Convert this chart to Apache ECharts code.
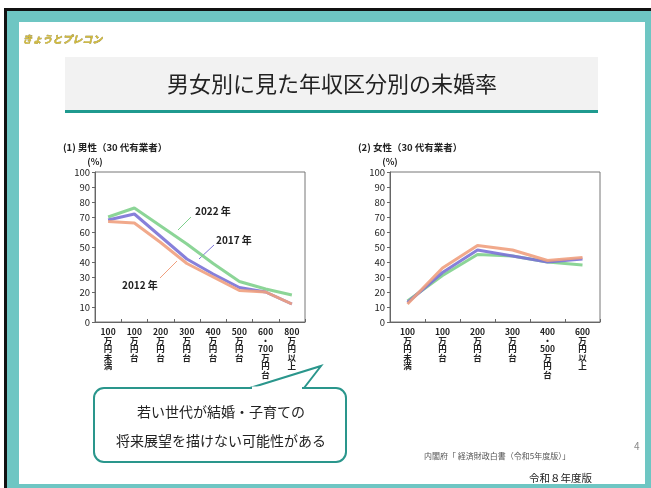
<!DOCTYPE html>
<html>
<head>
<meta charset="utf-8">
<script src="https://cdn.jsdelivr.net/npm/echarts@6/dist/echarts.min.js"></script>
<style>
  html, body { margin: 0; padding: 0; background: #fff; }
  #main { width: 651px; height: 488px; }
</style>
</head>
<body>
<div id="main"></div>
<script>
// 男性（30代有業者）
const maleCategories = ["100万円未満", "100万円台", "200万円台", "300万円台", "400万円台", "500万円台", "600・700万円台", "800万円以上"];
const male2012 = [67, 66, 53, 39, 30, 21, 20, 12];
const male2017 = [68, 72, 57, 42, 32, 23, 20, 12];
const male2022 = [70, 76, 64, 52, 39, 27, 22, 18];

// 女性（30代有業者）
const femaleCategories = ["100万円未満", "100万円台", "200万円台", "300万円台", "400・500万円台", "600万円以上"];
const female2012 = [12, 36, 51, 48, 41, 43];
const female2017 = [13, 33, 48, 44, 40, 42];
const female2022 = [14, 31, 45, 44, 40, 38];

const yTicks = [0, 10, 20, 30, 40, 50, 60, 70, 80, 90, 100];

const colors = { y2012: "#f0a07e", y2017: "#7a72d6", y2022: "#7fd08c" };
const teal = "#6ec6c3";
const font = "'Noto Sans CJK JP', sans-serif";

const chart = echarts.init(document.getElementById("main"));

// 縦書きラベル（数字は横のまま）
function verticalLabel(v) {
  return v.match(/\d+|./g).join("\n");
}

function xAxisOf(gridIndex, data) {
  return {
    type: "category",
    gridIndex: gridIndex,
    data: data,
    boundaryGap: true,
    axisLine: { lineStyle: { color: "#666", width: 1 } },
    axisTick: { show: true, inside: true, length: 3, lineStyle: { color: "#666" } },
    axisLabel: {
      formatter: verticalLabel,
      fontSize: 8.5,
      lineHeight: 8.5,
      fontWeight: "bold",
      color: "#222",
      fontFamily: font,
      margin: 6,
      interval: 0,
    },
  };
}

function yAxisOf(gridIndex) {
  return {
    type: "value",
    gridIndex: gridIndex,
    min: yTicks[0],
    max: yTicks[yTicks.length - 1],
    interval: 10,
    name: "(%)",
    nameLocation: "end",
    nameGap: 6,
    nameTextStyle: { color: "#222", fontSize: 9, fontWeight: "bold", fontFamily: font, align: "center" },
    axisLine: { show: true, lineStyle: { color: "#666" } },
    axisTick: { show: true, length: 3, lineStyle: { color: "#666" } },
    splitLine: { show: false },
    axisLabel: { fontSize: 9.5, color: "#222", fontFamily: font, margin: 5 },
  };
}

function lineSeries(name, idx, data, color) {
  return {
    name: name,
    type: "line",
    xAxisIndex: idx,
    yAxisIndex: idx,
    data: data,
    symbol: "none",
    lineStyle: { color: color, width: 3, opacity: 0.9 },
    animation: false,
  };
}

const option = {
  backgroundColor: "#fff",
  animation: false,
  title: [
    { text: "(1) 男性（30 代有業者）", left: 58, top: 138, textStyle: { fontSize: 9.5, fontWeight: "bold", color: "#222", fontFamily: font } },
    { text: "(2) 女性（30 代有業者）", left: 353, top: 138, textStyle: { fontSize: 9.5, fontWeight: "bold", color: "#222", fontFamily: font } },
  ],
  grid: [
    { left: 95, top: 172, width: 210, height: 150, show: true, borderColor: "#777", borderWidth: 1, backgroundColor: "transparent" },
    { left: 390, top: 172, width: 210, height: 150, show: true, borderColor: "#777", borderWidth: 1, backgroundColor: "transparent" },
  ],
  xAxis: [xAxisOf(0, maleCategories), xAxisOf(1, femaleCategories)],
  yAxis: [yAxisOf(0), yAxisOf(1)],
  series: [
    lineSeries("2022年", 0, male2022, colors.y2022),
    lineSeries("2017年", 0, male2017, colors.y2017),
    lineSeries("2012年", 0, male2012, colors.y2012),
    lineSeries("2022年", 1, female2022, colors.y2022),
    lineSeries("2017年", 1, female2017, colors.y2017),
    lineSeries("2012年", 1, female2012, colors.y2012),
  ],
  graphic: [
    // 外枠
    { type: "rect", z: -10, shape: { x: 4, y: 8, width: 647, height: 480 }, style: { fill: "#111" } },
    { type: "rect", z: -9, shape: { x: 7, y: 11, width: 644, height: 477 }, style: { fill: teal } },
    { type: "rect", z: -8, shape: { x: 19, y: 22, width: 626, height: 462 }, style: { fill: "#fff" } },
    // ロゴ
    { type: "text", left: 22, top: 34, style: { text: "きょうとプレコン", fontSize: 10, fontWeight: "bold", fontStyle: "italic", fill: "#d2bb3c", stroke: "#7a6c1c", lineWidth: 0.4, fontFamily: font } },
    // タイトル
    { type: "rect", shape: { x: 65, y: 57, width: 533, height: 54 }, style: { fill: "#f2f2f2" } },
    { type: "rect", shape: { x: 65, y: 110, width: 533, height: 3 }, style: { fill: "#1f9a8f" } },
    { type: "text", x: 332, y: 84, style: { text: "男女別に見た年収区分別の未婚率", fontSize: 22, fill: "#222", fontFamily: font, align: "center", verticalAlign: "middle" } },
    // 凡例注記
    { type: "text", x: 195, y: 211, style: { text: "2022 年", fontSize: 10, fontWeight: "bold", fill: "#222", fontFamily: font, verticalAlign: "middle" } },
    { type: "line", shape: { x1: 191, y1: 217, x2: 178, y2: 230 }, style: { stroke: colors.y2022, lineWidth: 1 } },
    { type: "text", x: 216, y: 240, style: { text: "2017 年", fontSize: 10, fontWeight: "bold", fill: "#222", fontFamily: font, verticalAlign: "middle" } },
    { type: "line", shape: { x1: 214, y1: 245, x2: 199, y2: 259 }, style: { stroke: colors.y2017, lineWidth: 1 } },
    { type: "text", x: 122, y: 285, style: { text: "2012 年", fontSize: 10, fontWeight: "bold", fill: "#222", fontFamily: font, verticalAlign: "middle" } },
    { type: "line", shape: { x1: 160, y1: 278, x2: 177, y2: 261 }, style: { stroke: colors.y2012, lineWidth: 1 } },
    // 吹き出し
    { type: "rect", shape: { x: 94, y: 388, width: 252, height: 74, r: 10 }, style: { fill: "#fff", stroke: "#2a968c", lineWidth: 2 } },
    { type: "polyline", z: 101, shape: { points: [[250, 388], [321, 366], [304, 388]] }, style: { fill: "none", stroke: "#2a968c", lineWidth: 2 } },
    { type: "line", z: 101, shape: { x1: 252, y1: 388, x2: 302, y2: 388 }, style: { stroke: "#fff", lineWidth: 3 } },
    { type: "text", x: 221, y: 412, style: { text: "若い世代が結婚・子育ての", fontSize: 14, fill: "#222", fontFamily: font, align: "center", verticalAlign: "middle" } },
    { type: "text", x: 221, y: 441, style: { text: "将来展望を描けない可能性がある", fontSize: 14, fill: "#222", fontFamily: font, align: "center", verticalAlign: "middle" } },
    // 出典など
    { type: "text", x: 424, y: 456, style: { text: "内閣府「 経済財政白書（令和5年度版）」", fontSize: 8, fill: "#555", fontFamily: font, verticalAlign: "middle" } },
    { type: "text", x: 592, y: 478, style: { text: "令和８年度版", fontSize: 10.5, fill: "#222", fontFamily: font, align: "right", verticalAlign: "middle" } },
    { type: "text", x: 634, y: 446, style: { text: "4", fontSize: 10, fill: "#888", fontFamily: font, verticalAlign: "middle" } },
  ],
};

chart.setOption(option);
</script>
</body>
</html>
